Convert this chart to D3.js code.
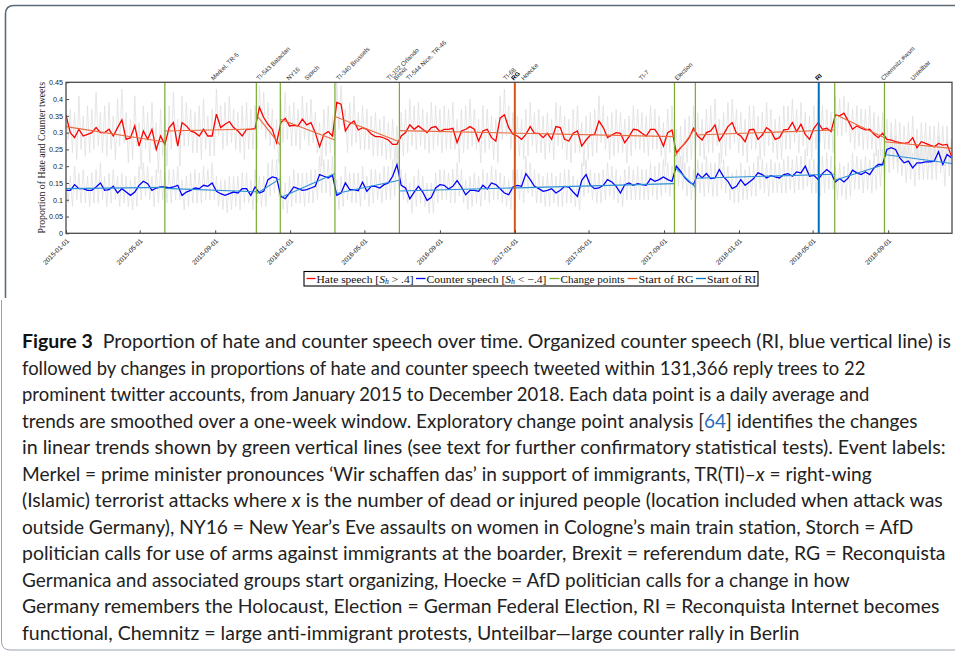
<!DOCTYPE html>
<html><head><meta charset="utf-8">
<script src="https://cdn.jsdelivr.net/npm/d3@7"></script>
<style>body{margin:0;background:#fff}svg{display:block}</style>
</head><body>
<svg id="c" width="955" height="655"></svg>
<script>
// ---------------- data ----------------
const startDate = "2015-01-01";
const endDate = "2018-12-14";
const stepDays = 7; // one value per week

const hateSmooth = [
.352,.30,.285,.31,.29,.295,.30,.315,.30,.30,
.31,.29,.315,.338,.28,.285,.32,.26,.305,.28,
.31,.25,.29,.265,.315,.33,.26,.33,.32,.305,
.30,.29,.31,.29,.29,.355,.315,.325,.333,.315,
.305,.29,.31,.31,.313,.375,.345,.325,.31,.27,
.33,.343,.32,.322,.32,.34,.323,.33,.30,.258,
.295,.303,.29,.39,.385,.305,.325,.335,.308,.315,
.31,.296,.288,.288,.284,.278,.265,.265,.29,.30,
.323,.31,.32,.31,.30,.315,.318,.303,.31,.31,
.313,.27,.305,.31,.318,.31,.275,.305,.31,.285,
.275,.343,.353,.315,.295,.29,.28,.295,.318,.298,
.298,.285,.298,.28,.318,.315,.28,.275,.298,.305,
.26,.278,.293,.295,.335,.315,.285,.293,.30,.298,
.27,.288,.31,.308,.298,.29,.31,.31,.29,.26,
.30,.308,.24,.255,.268,.285,.313,.29,.278,.30,
.305,.323,.275,.295,.318,.33,.298,.29,.273,.308,
.31,.28,.293,.315,.305,.28,.285,.308,.31,.33,
.303,.325,.295,.28,.313,.33,.31,.313,.303,.353,
.35,.358,.335,.31,.32,.313,.308,.31,.295,.285,
.298,.28,.278,.273,.27,.268,.27,.285,.255,.273,
.268,.263,.258,.268,.263,.265,.23];

const counterSmooth = [
.128,.128,.145,.133,.133,.128,.128,.138,.15,.128,
.13,.14,.12,.133,.123,.113,.123,.143,.155,.148,
.128,.135,.138,.138,.135,.138,.143,.113,.123,.128,
.135,.133,.143,.14,.15,.125,.118,.113,.118,.123,
.12,.133,.133,.113,.138,.12,.125,.16,.168,.165,
.11,.103,.12,.138,.133,.128,.13,.135,.14,.175,
.17,.165,.173,.113,.12,.15,.13,.13,.127,.152,
.125,.14,.14,.135,.145,.15,.17,.205,.143,.135,
.103,.123,.14,.123,.098,.107,.135,.145,.143,.132,
.14,.157,.138,.115,.128,.128,.125,.143,.132,.15,
.145,.133,.12,.115,.138,.143,.14,.178,.16,.14,
.133,.125,.128,.133,.12,.128,.14,.138,.123,.11,
.158,.175,.143,.133,.135,.143,.16,.153,.14,.12,
.145,.15,.143,.148,.145,.143,.163,.155,.16,.168,
.16,.155,.20,.185,.165,.153,.145,.178,.165,.178,
.163,.165,.19,.168,.155,.133,.14,.16,.143,.153,
.163,.18,.175,.165,.172,.168,.165,.175,.178,.17,
.183,.18,.20,.17,.173,.16,.178,.19,.18,.153,
.163,.153,.165,.188,.18,.175,.183,.175,.195,.205,
.205,.25,.255,.25,.225,.21,.215,.195,.21,.21,
.213,.213,.215,.243,.205,.235,.225];

// daily raw proportions: weekly high / low of the grey daily series
const hateHi = [
.40,.37,.36,.41,.35,.38,.37,.42,.36,.38,.39,.35,.40,.43,.36,.34,.41,.33,.38,.36,
.39,.33,.37,.35,.38,.42,.34,.41,.39,.37,.36,.38,.40,.35,.37,.43,.38,.39,.41,.37,
.36,.38,.39,.37,.38,.44,.42,.39,.37,.34,.40,.42,.38,.39,.37,.41,.39,.40,.36,.33,
.37,.38,.35,.45,.44,.37,.39,.41,.36,.38,.37,.35,.36,.34,.35,.33,.34,.32,.36,.37,
.40,.38,.39,.37,.36,.39,.38,.37,.38,.37,.39,.34,.37,.38,.40,.37,.34,.38,.37,.35,
.34,.41,.43,.38,.36,.35,.34,.37,.39,.36,.37,.35,.36,.34,.39,.38,.35,.34,.37,.38,
.33,.35,.36,.37,.41,.38,.35,.36,.37,.36,.34,.35,.38,.37,.36,.35,.38,.37,.35,.33,
.37,.38,.31,.32,.34,.35,.38,.36,.34,.37,.38,.40,.34,.36,.39,.40,.37,.36,.34,.38,
.38,.35,.36,.39,.37,.34,.35,.38,.38,.40,.37,.39,.36,.35,.38,.40,.38,.37,.36,.41,
.40,.41,.39,.37,.38,.37,.37,.38,.36,.35,.36,.34,.33,.34,.33,.32,.33,.35,.31,.33,
.33,.32,.32,.33,.32,.32,.28];
const hateLo = [
.28,.24,.22,.25,.23,.24,.25,.26,.24,.23,.25,.22,.26,.27,.21,.22,.26,.19,.25,.21,
.25,.18,.23,.20,.25,.27,.20,.26,.26,.24,.24,.22,.25,.23,.23,.29,.25,.26,.27,.25,
.24,.22,.25,.25,.25,.31,.28,.26,.25,.21,.27,.28,.26,.26,.25,.28,.26,.27,.24,.20,
.23,.24,.23,.31,.32,.24,.26,.27,.25,.25,.25,.23,.23,.23,.22,.22,.21,.20,.23,.24,
.26,.25,.26,.25,.24,.25,.26,.24,.25,.25,.25,.21,.24,.25,.26,.25,.21,.24,.25,.22,
.21,.28,.29,.25,.23,.23,.22,.23,.26,.24,.24,.22,.24,.22,.26,.25,.22,.21,.24,.24,
.20,.22,.23,.24,.27,.25,.22,.23,.24,.24,.21,.23,.25,.25,.24,.23,.25,.25,.23,.20,
.24,.25,.18,.19,.21,.22,.25,.23,.22,.24,.24,.26,.21,.23,.25,.27,.24,.23,.21,.25,
.25,.22,.23,.26,.24,.22,.22,.25,.25,.27,.24,.26,.23,.22,.25,.27,.25,.25,.24,.29,
.29,.30,.27,.25,.26,.25,.25,.25,.23,.23,.24,.22,.22,.21,.21,.21,.21,.22,.19,.21,
.21,.20,.20,.21,.20,.20,.18];
const counterHi = [
.18,.17,.20,.18,.19,.17,.18,.19,.21,.17,.18,.19,.17,.18,.17,.16,.17,.20,.21,.20,
.17,.19,.19,.18,.19,.19,.20,.16,.17,.18,.19,.18,.20,.19,.21,.17,.16,.16,.17,.17,
.17,.18,.18,.16,.19,.17,.17,.21,.22,.22,.16,.15,.17,.19,.18,.18,.18,.19,.19,.23,
.22,.22,.23,.16,.17,.20,.18,.18,.18,.20,.17,.19,.19,.18,.20,.20,.22,.26,.19,.18,
.15,.17,.19,.17,.15,.15,.18,.19,.19,.18,.19,.21,.19,.16,.17,.18,.17,.19,.18,.20,
.19,.18,.17,.16,.19,.19,.19,.23,.21,.19,.18,.17,.18,.18,.17,.18,.19,.19,.17,.16,
.21,.22,.19,.18,.18,.19,.21,.20,.19,.17,.19,.20,.19,.20,.19,.19,.21,.20,.21,.22,
.21,.20,.25,.23,.21,.20,.19,.22,.21,.23,.21,.21,.24,.22,.20,.18,.19,.21,.19,.20,
.21,.23,.22,.21,.22,.21,.21,.22,.23,.22,.23,.23,.25,.22,.22,.21,.23,.24,.23,.20,
.21,.20,.21,.24,.23,.22,.23,.22,.24,.25,.25,.29,.30,.29,.27,.26,.26,.24,.26,.26,
.26,.26,.26,.29,.25,.28,.27];
const counterLo = [
.09,.08,.10,.09,.09,.08,.09,.09,.10,.08,.09,.10,.08,.09,.08,.07,.08,.10,.11,.10,
.08,.09,.10,.09,.09,.10,.10,.07,.08,.09,.09,.09,.10,.10,.10,.08,.07,.06,.07,.08,
.07,.09,.09,.07,.09,.08,.08,.11,.12,.11,.07,.06,.08,.09,.09,.08,.09,.09,.10,.12,
.12,.11,.12,.07,.08,.10,.09,.09,.08,.10,.08,.09,.10,.09,.10,.10,.11,.14,.10,.09,
.06,.08,.09,.08,.06,.06,.09,.10,.10,.09,.09,.11,.09,.07,.08,.09,.08,.10,.09,.10,
.10,.09,.08,.07,.09,.10,.09,.12,.11,.09,.09,.08,.08,.09,.08,.08,.09,.09,.08,.07,
.11,.12,.10,.09,.09,.10,.11,.10,.09,.08,.10,.10,.10,.10,.10,.10,.11,.10,.11,.12,
.11,.10,.14,.13,.11,.10,.10,.12,.11,.12,.11,.11,.13,.12,.10,.09,.09,.10,.10,.11,
.11,.13,.12,.11,.12,.12,.12,.12,.13,.12,.13,.13,.14,.12,.12,.11,.12,.13,.13,.10,
.11,.10,.11,.13,.13,.12,.13,.12,.13,.14,.15,.18,.19,.18,.17,.15,.16,.14,.16,.16,
.16,.16,.16,.18,.14,.17,.16];

const changePoints = ["2015-06-11","2015-11-07","2015-12-16","2016-03-14","2016-06-27",
                      "2017-09-18","2017-10-22","2018-06-06","2018-08-26"];
const rgStart = "2017-01-01";
const riStart = "2018-05-11";
// linear trend per segment [start value, end value]
const hateTrend = [[.318,.272],[.305,.311],[.353,.263],[.340,.278],[.348,.273],
                   [.306,.288],[.228,.313],[.293,.308],[.355,.285],[.273,.253]];
const counterTrend = [[.133,.137],[.134,.124],[.118,.163],[.106,.178],[.118,.158],
                      [.126,.148],[.198,.138],[.164,.176],[.158,.205],[.235,.208]];

const xTickLabels = ["2015-01-01","2015-05-01","2015-09-01","2016-01-01","2016-05-01","2016-09-01",
                     "2017-01-01","2017-05-01","2017-09-01","2018-01-01","2018-05-01","2018-09-01"];
const yTickValues = [0,0.05,0.1,0.15,0.2,0.25,0.3,0.35,0.4,0.45];

const eventLabels = ["Merkel, TR-5","TI-543 Bataclan","NY16","Storch","TI-340 Brussels","TI-102 Orlando",
                     "Brexit","TI-544 Nice, TR-46","TI-68","RG","Hoecke","TI-7","Election","RI",
                     "Chemnitz,#wsm","Unteilbar"];
const eventDates = ["2015-08-31","2015-11-13","2016-01-01","2016-01-30","2016-03-22","2016-06-12",
                    "2016-06-23","2016-07-14","2016-12-19","2017-01-01","2017-01-17","2017-07-28",
                    "2017-09-24","2018-05-11","2018-08-26","2018-10-13"];

const legendLabels = ["Hate speech","Counter speech","Change points","Start of RG","Start of RI"];

const captionLines = [
 [["b","Figure 3"],["n","  Proportion of hate and counter speech over time. Organized counter speech (RI, blue vertical line) is"]],
 [["n","followed by changes in proportions of hate and counter speech tweeted within 131,366 reply trees to 22"]],
 [["n","prominent twitter accounts, from January 2015 to December 2018. Each data point is a daily average and"]],
 [["n","trends are smoothed over a one-week window. Exploratory change point analysis ["],["l","64"],["n","] identifies the changes"]],
 [["n","in linear trends shown by green vertical lines (see text for further confirmatory statistical tests). Event labels:"]],
 [["n","Merkel = prime minister pronounces \u2018Wir schaffen das\u2019 in support of immigrants, TR(TI)\u2013"],["i","x"],["n"," = right-wing"]],
 [["n","(Islamic) terrorist attacks where "],["i","x"],["n"," is the number of dead or injured people (location included when attack was"]],
 [["n","outside Germany), NY16 = New Year\u2019s Eve assaults on women in Cologne\u2019s main train station, Storch = AfD"]],
 [["n","politician calls for use of arms against immigrants at the boarder, Brexit = referendum date, RG = Reconquista"]],
 [["n","Germanica and associated groups start organizing, Hoecke = AfD politician calls for a change in how"]],
 [["n","Germany remembers the Holocaust, Election = German Federal Election, RI = Reconquista Internet becomes"]],
 [["n","functional, Chemnitz = large anti-immigrant protests, Unteilbar\u2014large counter rally in Berlin"]]
];
const captionRightEnds = [951,866,870,918,946,872,943,914,946,850,940,800];

// ---------------- drawing ----------------
const parse = d3.timeParse("%Y-%m-%d");
const t0 = parse(startDate);
const dayAt = d => new Date(t0.getTime() + d * 864e5);
const svg = d3.select("#c");

const M = {l:66, r:952, t:82.3, b:233.3};
const x = d3.scaleTime().domain([t0, parse(endDate)]).range([M.l, M.r]);
const y = d3.scaleLinear().domain([0, 0.45]).range([M.b, M.t]);

// outer frames
svg.append("path").attr("d","M955,5.5 H14 Q5.5,5.5 5.5,14 V298")
  .attr("fill","none").attr("stroke","#5d6b79").attr("stroke-width",1.6);
svg.append("path").attr("d","M1.5,300 V641 Q1.5,650 10,650 H955")
  .attr("fill","none").attr("stroke","#9aa3ab").attr("stroke-width",1);

const plot = svg.append("g");
plot.append("defs").append("clipPath").attr("id","clip")
  .append("rect").attr("x",M.l).attr("y",M.t).attr("width",M.r-M.l).attr("height",M.b-M.t);
const g = plot.append("g").attr("clip-path","url(#clip)");

// grey daily series
function rawPts(hi, lo){
  const pts = [];
  hi.forEach((v,k)=>{ pts.push([dayAt(k*stepDays), v]); pts.push([dayAt(k*stepDays+3.5), lo[k]]); });
  return pts;
}
const rawLine = d3.line().x(d=>x(d[0])).y(d=>y(d[1]));
[[hateHi,hateLo],[counterHi,counterLo]].forEach(([hi,lo])=>{
  g.append("path").attr("d", rawLine(rawPts(hi,lo)))
   .attr("fill","none").attr("stroke","#e0e0e0").attr("stroke-width",0.8);
});

// smoothed series
const sLine = d3.line().x((d,k)=>x(dayAt(k*stepDays))).y(d=>y(d));
g.append("path").attr("d", sLine(hateSmooth)).attr("fill","none").attr("stroke","#ff0000").attr("stroke-width",1.3);
g.append("path").attr("d", sLine(counterSmooth)).attr("fill","none").attr("stroke","#0000ff").attr("stroke-width",1.3);

// trends
const bounds = [t0, ...changePoints.map(parse), parse(endDate)];
function drawTrend(tr, color){
  tr.forEach((s,i)=>{
    g.append("line").attr("x1",x(bounds[i])).attr("x2",x(bounds[i+1]))
     .attr("y1",y(s[0])).attr("y2",y(s[1]))
     .attr("stroke",color).attr("stroke-width",1.1);
  });
}
drawTrend(hateTrend, "#e86a3e");
drawTrend(counterTrend, "#2b8fd6");

// vertical lines
changePoints.forEach(d=>{
  plot.append("line").attr("x1",x(parse(d))).attr("x2",x(parse(d))).attr("y1",M.t).attr("y2",M.b)
    .attr("stroke","#77ac30").attr("stroke-width",1.2);
});
plot.append("line").attr("x1",x(parse(rgStart))).attr("x2",x(parse(rgStart))).attr("y1",M.t).attr("y2",M.b)
  .attr("stroke","#d95319").attr("stroke-width",2);
plot.append("line").attr("x1",x(parse(riStart))).attr("x2",x(parse(riStart))).attr("y1",M.t).attr("y2",M.b)
  .attr("stroke","#0072bd").attr("stroke-width",2);

// frame
plot.append("rect").attr("x",M.l).attr("y",M.t).attr("width",M.r-M.l).attr("height",M.b-M.t)
  .attr("fill","none").attr("stroke","#4a4a4a").attr("stroke-width",1.3);

// axes
const yAx = plot.append("g").attr("transform",`translate(${M.l},0)`)
  .call(d3.axisLeft(y).tickValues(yTickValues).tickSize(-3).tickPadding(3)
        .tickFormat(d=>String(+d.toFixed(2))));
yAx.select(".domain").remove();
yAx.selectAll("line").attr("stroke","#4a4a4a");
yAx.selectAll("text").attr("font-family","Liberation Sans, Arial, sans-serif").attr("font-size",7.2).attr("fill","#222");

const xAx = plot.append("g").attr("transform",`translate(0,${M.b})`)
  .call(d3.axisBottom(x).tickValues(xTickLabels.map(parse)).tickSize(-3)
        .tickFormat(d3.timeFormat("%Y-%m-%d")));
xAx.select(".domain").remove();
xAx.selectAll("line").attr("stroke","#4a4a4a");
xAx.selectAll("text").attr("y",0).attr("dy",0)
  .attr("transform","translate(3,8) rotate(-45)").style("text-anchor","end")
  .attr("font-family","Liberation Sans, Arial, sans-serif").attr("font-size",6.6).attr("fill","#222");

// y title
svg.append("text").attr("transform",`translate(44.5,${(M.t+M.b)/2}) rotate(-90)`)
  .attr("text-anchor","middle").attr("font-family","Liberation Serif, Times New Roman, serif")
  .attr("font-size",9.8).attr("fill","#222").text("Proportion of Hate and Counter tweets");

// event labels
eventLabels.forEach((lab,i)=>{
  const bold = lab==="RG"||lab==="RI";
  svg.append("text").attr("transform",`translate(${x(parse(eventDates[i]))-1},${M.t-1.5}) rotate(-45)`)
    .attr("font-family","Liberation Sans, Arial, sans-serif").attr("font-size",6.3)
    .attr("font-weight",bold?"bold":"normal").attr("fill",bold?"#000":"#333").text(lab);
});

// legend
const lg = svg.append("g").attr("font-family","Liberation Serif, Times New Roman, serif").attr("font-size",11.2).attr("fill","#111");
lg.append("rect").attr("x",304).attr("y",271.5).attr("width",454).attr("height",14.5)
  .attr("fill","#fff").attr("stroke","#000").attr("stroke-width",1.1);
const legItems = [
  {c:"#ff0000", x0:306.5, tx:316.5, w:97, math:[" [","S","h"," > .4]"]},
  {c:"#0000ff", x0:416, tx:426.5, w:120, math:[" [","S","h"," < \u2212.4]"]},
  {c:"#77ac30", x0:549.5, tx:560.5, w:64},
  {c:"#d95319", x0:627.5, tx:638.5, w:55},
  {c:"#0072bd", x0:696, tx:707, w:49}
];
legItems.forEach((it,i)=>{
  lg.append("line").attr("x1",it.x0).attr("x2",it.tx-1).attr("y1",278.5).attr("y2",278.5)
    .attr("stroke",it.c).attr("stroke-width",1.3);
  const t = lg.append("text").attr("x",0).attr("y",0);
  t.append("tspan").text(legendLabels[i]);
  if(it.math){
    t.append("tspan").text(it.math[0]);
    t.append("tspan").attr("font-style","italic").text(it.math[1]);
    t.append("tspan").attr("font-style","italic").attr("font-size",7.5).attr("dy",1.8).text(it.math[2]);
    t.append("tspan").attr("dy",-1.8).text(it.math[3]);
  }
  const w = t.node().getComputedTextLength();
  t.attr("transform",`translate(${it.tx},282.6) scale(${it.w/w},1)`);
});

// caption
const cap = svg.append("g").attr("font-family","Lato, 'Open Sans', sans-serif").attr("font-size",19.5).attr("fill","#222");
captionLines.forEach((parts,i)=>{
  const t = cap.append("text").attr("x",0).attr("y",0);
  parts.forEach(([k,s])=>{
    const ts = t.append("tspan").text(s).attr("xml:space","preserve");
    if(k==="b") ts.attr("font-weight","bold").attr("fill","#111");
    if(k==="i") ts.attr("font-style","italic");
    if(k==="l") ts.attr("fill","#2a6ebb");
  });
  const w = t.node().getComputedTextLength();
  t.attr("transform",`translate(22,${348 + i*26.5}) scale(${(captionRightEnds[i]-22)/w},1)`);
});
</script>
</body></html>
